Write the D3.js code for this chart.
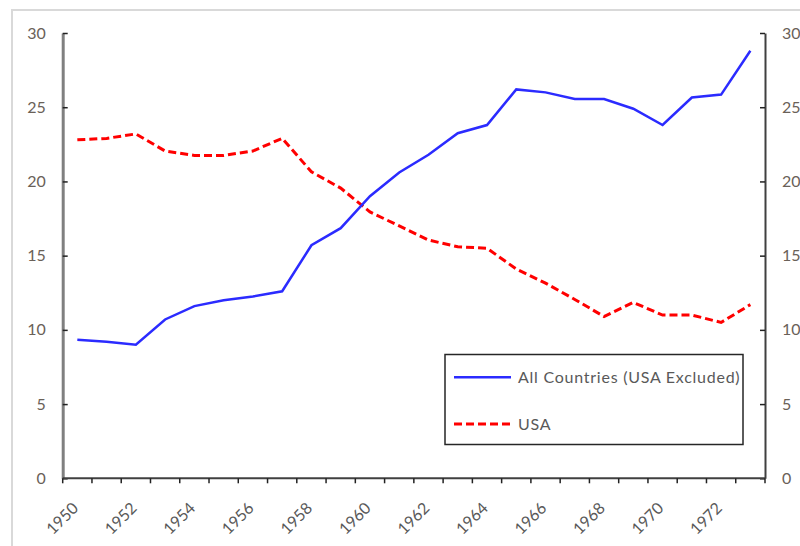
<!DOCTYPE html>
<html>
<head>
<meta charset="utf-8">
<script src="https://cdn.jsdelivr.net/npm/d3@7"></script>
<style>
  html, body { margin: 0; padding: 0; background: #fff; }
  svg { display: block; }
  text { font-family: Lato, "Open Sans", sans-serif; }
</style>
</head>
<body>
<svg id="chart" width="800" height="546"></svg>
<script>
const years = ["1950","1951","1952","1953","1954","1955","1956","1957","1958","1959","1960","1961",
               "1962","1963","1964","1965","1966","1967","1968","1969","1970","1971","1972","1973"];
const allCountries = [9.33, 9.2, 9.0, 10.7, 11.6, 12.0, 12.25, 12.6, 15.7, 16.85, 19.0, 20.6,
                      21.8, 23.25, 23.8, 26.2, 26.0, 25.55, 25.55, 24.9, 23.8, 25.65, 25.85, 28.8];
const usa = [22.8, 22.9, 23.2, 22.05, 21.75, 21.75, 22.05, 22.9, 20.65, 19.55, 17.95, 17.0,
             16.05, 15.6, 15.5, 14.1, 13.15, 12.05, 10.9, 11.85, 11.0, 11.0, 10.5, 11.7];
const yTicks = [0, 5, 10, 15, 20, 25, 30];
const seriesNames = ["All Countries (USA Excluded)", "USA"];

const svg = d3.select("#chart");
const pLeft = 62.7, pRight = 765, pTop = 33, pBottom = 478.3;

// outer chart-area frame
svg.append("rect").attr("x", 12).attr("y", 10).attr("width", 820).attr("height", 560)
  .attr("fill", "none").attr("stroke", "#d9d9d9").attr("stroke-width", 2);

const x = d3.scaleBand().domain(years).range([pLeft, pRight]).padding(0);
const y = d3.scaleLinear().domain([0, 30]).range([pBottom, pTop]);
const cx = d => x(d) + x.bandwidth() / 2;

// left axis
const gl = svg.append("g").attr("transform", `translate(${pLeft},0)`)
  .call(d3.axisLeft(y).tickValues(yTicks).tickSizeInner(-5).tickSizeOuter(0).tickPadding(17));
gl.select(".domain").attr("stroke", "#808080").attr("stroke-width", 3);
gl.selectAll(".tick line").attr("stroke", "#222").attr("stroke-width", 1.5);
gl.selectAll(".tick text").attr("fill", "#6a6158").style("font-size", "16px");

// right axis
const gr = svg.append("g").attr("transform", `translate(${pRight},0)`)
  .call(d3.axisRight(y).tickValues(yTicks).tickSizeInner(-5).tickSizeOuter(0).tickPadding(17));
gr.select(".domain").attr("stroke", "#404040").attr("stroke-width", 2);
gr.selectAll(".tick line").attr("stroke", "#222").attr("stroke-width", 1.5);
gr.selectAll(".tick text").attr("fill", "#6a6158").style("font-size", "16px");

// bottom axis
svg.append("line").attr("x1", pLeft).attr("x2", pRight).attr("y1", y(0)).attr("y2", y(0))
  .attr("stroke", "#404040").attr("stroke-width", 2);
const boundaries = years.map(d => x(d)).concat([pRight]);
svg.append("g").selectAll("line").data(boundaries).join("line")
  .attr("x1", d => d).attr("x2", d => d).attr("y1", y(0)).attr("y2", y(0) + 5)
  .attr("stroke", "#222").attr("stroke-width", 1.5);
svg.append("g").selectAll("text").data(years.filter((d, i) => i % 2 === 0)).join("text")
  .attr("transform", d => `translate(${cx(d) - 2},${y(0) + 27}) rotate(-45)`)
  .attr("text-anchor", "end").attr("dy", "0.35em")
  .attr("fill", "#595959").style("font-size", "16px")
  .text(d => d);

// lines
const line = vals => d3.line().x((d, i) => cx(years[i])).y(d => y(d))(vals);
svg.append("path").attr("d", line(usa)).attr("fill", "none")
  .attr("stroke", "#ff0000").attr("stroke-width", 3).attr("stroke-dasharray", "8,4");
svg.append("path").attr("d", line(allCountries)).attr("fill", "none")
  .attr("stroke", "#2b2bff").attr("stroke-width", 2.5);

// legend
const lg = svg.append("g");
lg.append("rect").attr("x", 445).attr("y", 354.5).attr("width", 298).attr("height", 90)
  .attr("fill", "#fff").attr("stroke", "#262626").attr("stroke-width", 1.5);
lg.append("line").attr("x1", 454).attr("x2", 511).attr("y1", 377.3).attr("y2", 377.3)
  .attr("stroke", "#2b2bff").attr("stroke-width", 2.5);
lg.append("line").attr("x1", 454).attr("x2", 511).attr("y1", 424).attr("y2", 424)
  .attr("stroke", "#ff0000").attr("stroke-width", 3).attr("stroke-dasharray", "8,4");
lg.append("text").attr("x", 518).attr("y", 377.3).attr("dy", "0.35em")
  .attr("fill", "#595959").style("font-size", "16px").style("letter-spacing", "0.75px")
  .text(seriesNames[0]);
lg.append("text").attr("x", 518).attr("y", 424).attr("dy", "0.35em")
  .attr("fill", "#595959").style("font-size", "16px").style("letter-spacing", "0.75px")
  .text(seriesNames[1]);
</script>
</body>
</html>
